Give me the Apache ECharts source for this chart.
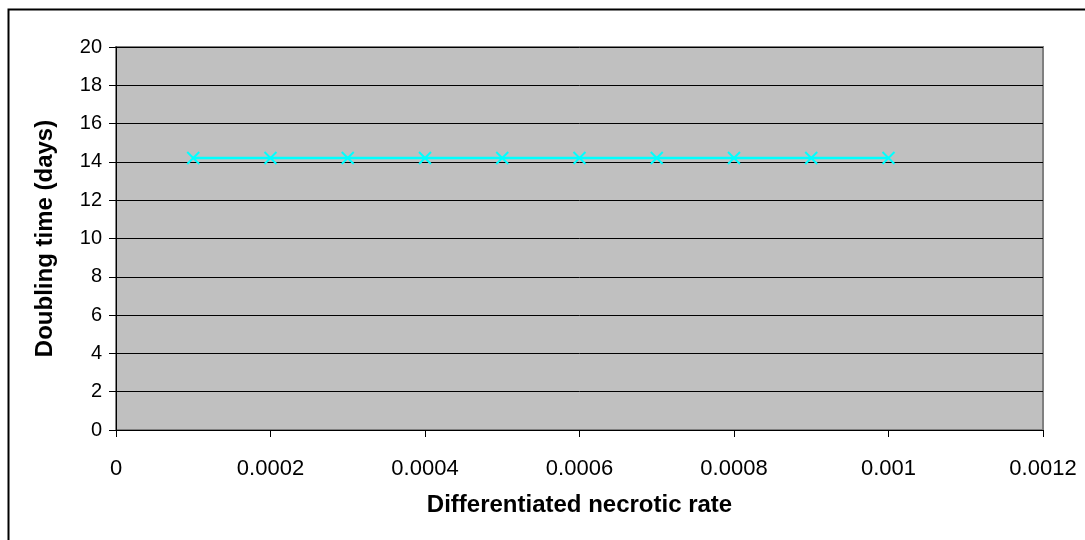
<!DOCTYPE html>
<html><head><meta charset="utf-8">
<script src="https://cdn.jsdelivr.net/npm/echarts@6/dist/echarts.min.js"></script>
<style>html,body{margin:0;padding:0;background:#fff}#c{width:1085px;height:540px}</style>
</head><body><div id="c"></div>
<script>
var xValues = [0.0001, 0.0002, 0.0003, 0.0004, 0.0005, 0.0006, 0.0007, 0.0008, 0.0009, 0.001];
var yValues = [14.2, 14.2, 14.2, 14.2, 14.2, 14.2, 14.2, 14.2, 14.2, 14.2];
var xTitle = 'Differentiated necrotic rate';
var yTitle = 'Doubling time (days)';

var chart = echarts.init(document.getElementById('c'));
var font = '"Liberation Sans", Arial, sans-serif';
chart.setOption({
  animation: false,
  graphic: [{
    type: 'rect', shape: {x: 8.5, y: 9.5, width: 1200, height: 700},
    style: {fill: 'none', stroke: '#000', lineWidth: 2}, z: -10
  }],
  grid: {left: 116, top: 47, right: 42, bottom: 110, show: true,
         backgroundColor: '#C0C0C0', borderColor: '#808080', borderWidth: 2},
  xAxis: {
    type: 'value', min: 0, max: 0.0012, interval: 0.0002,
    name: xTitle, nameLocation: 'middle', nameGap: 63,
    nameTextStyle: {fontFamily: font, fontSize: 24, fontWeight: 'bold', color: '#000'},
    axisLine: {show: true, onZero: false, lineStyle: {color: '#000', width: 1}},
    axisTick: {show: true, length: 7, lineStyle: {color: '#000'}},
    axisLabel: {fontFamily: font, fontSize: 22, color: '#000', margin: 28,
      formatter: function(v){ return v === 0 ? '0' : String(parseFloat(v.toPrecision(6))); }},
    splitLine: {show: false}
  },
  yAxis: {
    type: 'value', min: 0, max: 20, interval: 2,
    name: yTitle, nameLocation: 'middle', nameGap: 59,
    nameTextStyle: {fontFamily: font, fontSize: 24, fontWeight: 'bold', color: '#000'},
    axisLine: {show: true, lineStyle: {color: '#000', width: 1}},
    axisTick: {show: true, length: 7, lineStyle: {color: '#000'}},
    axisLabel: {fontFamily: font, fontSize: 20, color: '#000', margin: 14},
    splitLine: {show: true, lineStyle: {color: '#000', width: 1}}
  },
  series: [{
    type: 'line',
    data: xValues.map(function(x, i){ return [x, yValues[i]]; }),
    lineStyle: {color: '#00FFFF', width: 2.5},
    itemStyle: {color: '#00FFFF', borderColor: '#00FFFF', borderWidth: 2},
    symbol: 'path://M0,0L10,10M10,0L0,10',
    symbolSize: 12,
    showSymbol: true
  }]
});
</script></body></html>
